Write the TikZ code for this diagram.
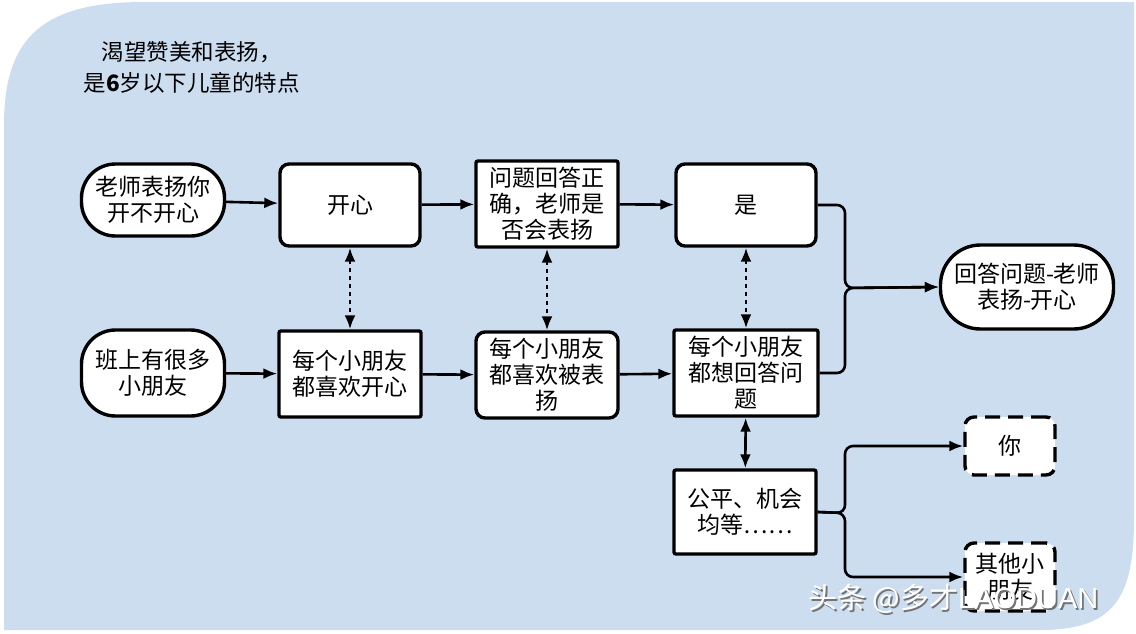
\documentclass[tikz,border=0pt]{standalone}
\usepackage{fontspec}
\setmainfont{Liberation Sans}
\newfontfamily\cjk{Noto Sans CJK SC}
\newfontfamily\wmlat{Liberation Sans}
\usetikzlibrary{arrows.meta,calc}
\definecolor{bgblue}{RGB}{204,221,240}
\tikzset{
  base/.style={draw=black, line width=3.4pt, fill=white, align=center,
    font=\cjk\fontsize{23}{26}\selectfont, inner sep=1pt},
  pill/.style={base, rounded corners=34pt, minimum width=143pt, minimum height=72pt},
  pillE/.style={base, rounded corners=40pt, minimum width=173pt, minimum height=84pt},
  rbox/.style={base, rounded corners=9pt, minimum width=140pt, minimum height=82pt},
  sbox/.style={base, rounded corners=2pt, minimum width=142pt, minimum height=86pt},
  dbox/.style={base, rounded corners=9pt, dash pattern=on 15pt off 8pt, minimum width=90pt, minimum height=58pt},
  arr/.style={line width=2.6pt, -{Latex[length=14pt,width=11pt]}},
  darr/.style={line width=2.6pt, {Latex[length=14pt,width=11pt]}-{Latex[length=14pt,width=11pt]}},
  dotarr/.style={darr, dash pattern=on 4pt off 4pt},
  wmark/.style={font=\cjk\fontsize{29}{32}\selectfont, anchor=west, inner sep=0pt},
}
\begin{document}
\begin{tikzpicture}[x=1pt,y=-1pt]
\useasboundingbox (0,0) rectangle (1136,633);
\fill[white] (0,0) rectangle (1136,633);
\fill[bgblue] (4,630) -- (4,125) .. controls (4,35) and (45,2) .. (145,2) -- (1134,2) -- (1134,520) .. controls (1134,600) and (1112,630) .. (1040,630) -- cycle;

\node[anchor=north west, align=left, font=\cjk\fontsize{22.5}{31}\selectfont] (title) at (95,38)
  {\hspace*{3pt}渴望赞美和表扬，\\\hspace*{-15pt}是{\bfseries 6}岁以下儿童的特点};

\node[pill] (A1) at (153,200) {老师表扬你\\开不开心};
\node[rbox] (B1) at (350,205) {开心};
\node[sbox] (C1) at (547,204) {问题回答正\\确，老师是\\否会表扬};
\node[rbox] (D1) at (746,205) {是};
\node[pillE] (E) at (1027,287) {回答问题-老师\\表扬-开心};

\node[pill, minimum height=86pt] (A2) at (153,373) {班上有很多\\小朋友};
\node[sbox] (B2) at (350,374) {每个小朋友\\都喜欢开心};
\node[rbox, minimum width=142pt, minimum height=86pt] (C2) at (547,375) {每个小朋友\\都喜欢被表\\扬};
\node[sbox, minimum width=144pt] (D2) at (746,373) {每个小朋友\\都想回答问\\题};
\node[sbox, minimum width=142pt, minimum height=84pt] (F) at (745,512) {公平、机会\\均等……};
\node[dbox] (G) at (1010,446) {你};
\node[dbox, minimum height=68pt] (H) at (1010,577) {其他小\\朋友};

\draw[arr] (A1) -- (B1);
\draw[arr] (B1) -- (C1);
\draw[arr] (C1) -- (D1);
\draw[arr] (A2) -- (B2);
\draw[arr] (B2) -- (C2);
\draw[arr] (C2) -- (D2);

\draw[dotarr] (B1) -- (B2);
\draw[dotarr] (C1) -- (C2);
\draw[dotarr] (D1) -- (D2);
\draw[darr] (D2) -- (F);

\coordinate (J) at (845,288);
\draw[arr, rounded corners=8pt] (D1.east) -| (J) -- (E.west);
\draw[arr, rounded corners=8pt] (D2.east) -| (J) -- (E.west);
\coordinate (K) at (845,513);
\draw[arr, rounded corners=8pt] (F.east) -- (K) |- (G.west);
\draw[arr, rounded corners=8pt] (F.east) -- (K) |- (H.west);

\node[wmark, text=black!55] (wm0) at (809.8,600.8) {头条 @多才{\wmlat LAODUAN}};
\node[wmark, text=white] (wm) at (808,599) {头条 @多才{\wmlat LAODUAN}};
\end{tikzpicture}
\end{document}
